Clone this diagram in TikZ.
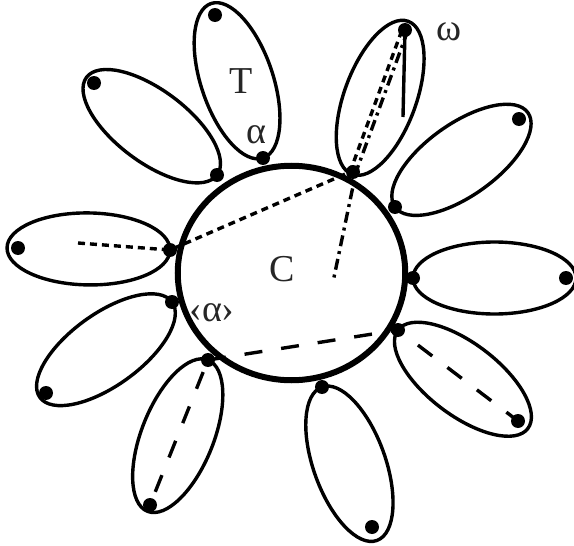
\documentclass[tikz,border=0pt]{standalone}
\usepackage{fontspec}
\setmainfont{Liberation Serif}
\usepackage{tikz}
\usetikzlibrary{shapes.geometric,calc}
\definecolor{inkgray}{HTML}{262626}

\begin{document}
\begin{tikzpicture}[
    x=1pt, y=1pt,
    petal/.style={ellipse, draw, line width=3.4pt, inner sep=0pt,
      minimum width=163pt, minimum height=72pt},
    core/.style={ellipse, draw, fill=white, line width=6pt, inner sep=0pt,
      minimum width=227.5pt, minimum height=214.5pt},
    dot/.style={circle, fill, inner sep=0pt, minimum size=14pt},
    finedash/.style={line width=3.4pt, dash pattern=on 7pt off 5pt},
    chaindash/.style={line width=3.4pt, dash pattern=on 11pt off 5pt on 3pt off 5pt},
    longdash/.style={line width=3.4pt, dash pattern=on 18pt off 19pt},
    lbl/.style={font=\fontsize{38}{40}\selectfont, text=inkgray, inner sep=0pt, anchor=base}
  ]
  \useasboundingbox (0,0) rectangle (574,-546);
  % Points d'attache (b) et bouts des petales (t)
  \coordinate (b1) at (263,-158);   \coordinate (t1) at (215,-15);
  \coordinate (b2) at (217,-175);   \coordinate (t2) at (94,-83);
  \coordinate (b3) at (353,-172);   \coordinate (t3) at (405,-30);
  \coordinate (b4) at (395,-207);   \coordinate (t4) at (519,-119);
  \coordinate (b5) at (413,-278);   \coordinate (t5) at (566,-278);
  \coordinate (b6) at (398,-330);   \coordinate (t6) at (518,-421);
  \coordinate (b7) at (322,-387);   \coordinate (t7) at (372,-527);
  \coordinate (b8) at (208,-360);   \coordinate (t8) at (150,-505);
  \coordinate (b9) at (172,-302);   \coordinate (t9) at (46,-393);
  \coordinate (b10) at (170,-250);  \coordinate (t10) at (18,-248);
  % Petales
  \node[petal, rotate=108.6] (p1) at ($(b1)!81.5pt!(t1)$) {};
  \node[petal, rotate=143.2] (p2) at ($(b2)!81.5pt!(t2)$) {};
  \node[petal, rotate=69.9] (p3) at ($(b3)!79pt!(t3)$) {};
  \node[petal, rotate=35.4] (p4) at ($(b4)!81.5pt!(t4)$) {};
  \node[petal, rotate=0] (p5) at ($(b5)!81.5pt!(t5)$) {};
  \node[petal, rotate=-37.2] (p6) at ($(b6)!81.5pt!(t6)$) {};
  \node[petal, rotate=-70.3] (p7) at ($(b7)!81.5pt!(t7)$) {};
  \node[petal, rotate=-111.8] (p8) at ($(b8)!81.5pt!(t8)$) {};
  \node[petal, rotate=-144.2] (p9) at ($(b9)!81.5pt!(t9)$) {};
  \node[petal, rotate=179.2] (p10) at ($(b10)!81.5pt!(t10)$) {};
  % Cercle central
  \node[core] (circ) at (291.5,-273) {};
  % Chemins
  \coordinate (fend) at (78,-243);
  \coordinate (cend) at (333,-282);
  \coordinate (send) at (403,-117);
  \draw[finedash] (fend) -- (b10) -- ([xshift=-3pt]b3) -- ([xshift=-3pt]t3);
  \draw[chaindash] ([xshift=3pt]t3) -- ([xshift=3pt]b3) -- (cend);
  \draw[line width=3.4pt] (t3) -- (send);
  \draw[longdash, dash phase=24pt] (b8) -- (t8);
  \draw[longdash] (b8) -- (b6);
  \draw[longdash, dash phase=12pt] (b6) -- (t6);
  % Points
  \foreach \p in {b1,t1,b2,t2,b3,t3,b4,t4,b5,t5,b6,t6,b7,t7,b8,t8,b9,t9,b10,t10}
    \node[dot] (d\p) at (\p) {};
  % Etiquettes
  \node[lbl] (lT) at (241,-93) {T};
  \node[lbl] (la) at (256,-143) {α};
  \node[lbl] (lw) at (449,-40.5) {ω};
  \node[lbl] (lC) at (282,-281) {C};
  \node[lbl] (lr) at (212,-321.5) {‹α›};
\end{tikzpicture}
\end{document}
